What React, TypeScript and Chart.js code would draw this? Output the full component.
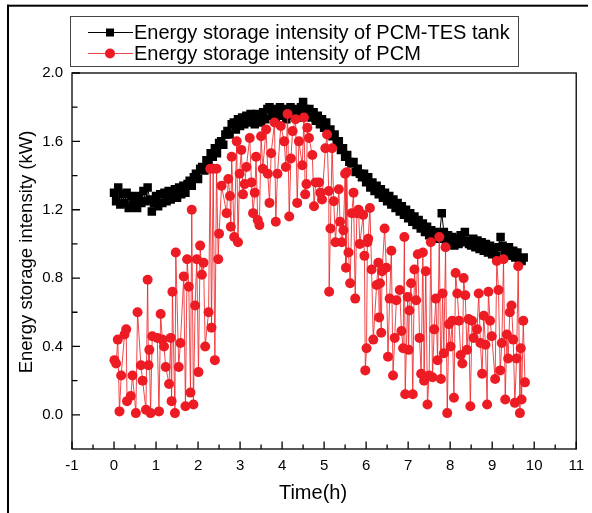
import React, { useEffect, useRef } from "react";
import { Chart, registerables } from "chart.js";

Chart.register(...registerables);

// ---------- data ----------
const tankTimes = [
  0.0, 0.05, 0.1, 0.15, 0.2, 0.25, 0.3, 0.35, 0.4, 0.45, 0.5, 0.55, 0.6, 0.65, 0.7, 0.75, 0.8, 0.85, 0.9, 0.95,
  1.0, 1.05, 1.1, 1.15, 1.2, 1.25, 1.3, 1.35, 1.4, 1.45, 1.5, 1.55, 1.6, 1.65, 1.7, 1.75, 1.8, 1.85, 1.9, 1.95,
  2.0, 2.05, 2.1, 2.15, 2.2, 2.25, 2.3, 2.35, 2.4, 2.45, 2.5, 2.55, 2.6, 2.65, 2.7, 2.75, 2.8, 2.85, 2.9, 2.95,
  3.0, 3.05, 3.1, 3.15, 3.2, 3.25, 3.3, 3.35, 3.4, 3.45, 3.5, 3.55, 3.6, 3.65, 3.7, 3.75, 3.8, 3.85, 3.9, 3.95,
  4.0, 4.05, 4.1, 4.15, 4.2, 4.25, 4.3, 4.35, 4.4, 4.45, 4.5, 4.55, 4.6, 4.65, 4.7, 4.75, 4.8, 4.85, 4.9, 4.95,
  5.0, 5.05, 5.1, 5.15, 5.2, 5.25, 5.3, 5.35, 5.4, 5.45, 5.5, 5.55, 5.6, 5.65, 5.7, 5.75, 5.8, 5.85, 5.9, 5.95,
  6.0, 6.05, 6.1, 6.15, 6.2, 6.25, 6.3, 6.35, 6.4, 6.45, 6.5, 6.55, 6.6, 6.65, 6.7, 6.75, 6.8, 6.85, 6.9, 6.95,
  7.0, 7.05, 7.1, 7.15, 7.2, 7.25, 7.3, 7.35, 7.4, 7.45, 7.5, 7.55, 7.6, 7.65, 7.7, 7.75, 7.8, 7.85, 7.9, 7.95,
  8.0, 8.05, 8.1, 8.15, 8.2, 8.25, 8.3, 8.35, 8.4, 8.45, 8.5, 8.55, 8.6, 8.65, 8.7, 8.75, 8.8, 8.85, 8.9, 8.95,
  9.0, 9.05, 9.1, 9.15, 9.2, 9.25, 9.3, 9.35, 9.4, 9.45, 9.5, 9.55, 9.6, 9.65, 9.7, 9.75,
];

const tankPower = [
  1.3, 1.25, 1.33, 1.23, 1.29, 1.24, 1.3, 1.21, 1.28, 1.23, 1.26, 1.21, 1.28, 1.24, 1.31, 1.25, 1.33, 1.26, 1.19, 1.24,
  1.28, 1.22, 1.29, 1.24, 1.3, 1.25, 1.31, 1.26, 1.3, 1.32, 1.27, 1.33, 1.29, 1.34, 1.3, 1.35, 1.37, 1.34, 1.39, 1.41,
  1.38, 1.44, 1.45, 1.43, 1.49, 1.46, 1.53, 1.51, 1.56, 1.53, 1.59, 1.6, 1.58, 1.64, 1.66, 1.64, 1.7, 1.71, 1.67, 1.73,
  1.69, 1.74, 1.7, 1.75, 1.71, 1.76, 1.72, 1.7, 1.76, 1.73, 1.71, 1.77, 1.73, 1.79, 1.8, 1.75, 1.79, 1.74, 1.78, 1.8,
  1.75, 1.79, 1.73, 1.78, 1.8, 1.75, 1.79, 1.76, 1.74, 1.8, 1.83, 1.79, 1.76, 1.79, 1.74, 1.77, 1.72, 1.75, 1.7, 1.73,
  1.68, 1.71, 1.66, 1.67, 1.63, 1.64, 1.59, 1.6, 1.55, 1.56, 1.51, 1.52, 1.48, 1.47, 1.48, 1.42, 1.44, 1.41, 1.39, 1.41,
  1.36, 1.39, 1.33, 1.36, 1.31, 1.34, 1.29, 1.32, 1.27, 1.3, 1.25, 1.28, 1.23, 1.26, 1.21, 1.24, 1.19, 1.22, 1.17, 1.2,
  1.15, 1.18, 1.13, 1.16, 1.11, 1.14, 1.09, 1.12, 1.07, 1.1, 1.05, 1.08, 1.04, 1.07, 1.03, 1.06, 1.18, 1.07, 1.02, 1.05,
  1.01, 1.04, 0.99, 1.03, 1.0, 1.05, 1.01, 1.07, 1.02, 1.0, 0.99, 1.03, 0.98, 1.02, 0.97, 1.01, 0.96, 1.0, 0.95, 0.99,
  0.94, 0.97, 0.93, 0.98, 1.04, 0.99, 0.96, 0.94, 0.98, 0.93, 0.96, 0.92, 0.95, 0.91, 0.9, 0.92,
];

const pcmTimes = [
  0.01, 0.05, 0.09, 0.13, 0.17, 0.25, 0.29, 0.31, 0.4, 0.44, 0.52, 0.56, 0.64, 0.68, 0.76, 0.8, 0.82, 0.84, 0.87, 0.91,
  1.03, 1.07, 1.11, 1.15, 1.19, 1.23, 1.31, 1.35, 1.37, 1.39, 1.45, 1.47, 1.54, 1.58, 1.66, 1.7, 1.74, 1.78, 1.82, 1.85,
  1.89, 1.93, 1.97, 2.01, 2.05, 2.09, 2.13, 2.17, 2.25, 2.29, 2.32, 2.36, 2.4, 2.44, 2.48, 2.5, 2.56, 2.68, 2.72, 2.76,
  2.78, 2.8, 2.86, 2.92, 2.95, 2.99, 3.03, 3.07, 3.11, 3.15, 3.23, 3.27, 3.31, 3.35, 3.38, 3.42, 3.46, 3.5, 3.54, 3.62,
  3.66, 3.7, 3.74, 3.82, 3.85, 3.89, 3.97, 4.05, 4.09, 4.13, 4.17, 4.21, 4.25, 4.32, 4.36, 4.4, 4.48, 4.52, 4.55, 4.58,
  4.6, 4.64, 4.72, 4.76, 4.8, 4.88, 4.91, 4.95, 5.03, 5.07, 5.11, 5.12, 5.15, 5.19, 5.23, 5.27, 5.35, 5.38, 5.42, 5.46,
  5.5, 5.52, 5.54, 5.58, 5.62, 5.66, 5.7, 5.74, 5.78, 5.82, 5.85, 5.93, 5.96, 5.98, 6.01, 6.03, 6.05, 6.09, 6.13, 6.17,
  6.25, 6.29, 6.31, 6.33, 6.36, 6.38, 6.44, 6.48, 6.52, 6.56, 6.6, 6.64, 6.68, 6.72, 6.8, 6.84, 6.88, 6.91, 6.93, 6.99,
  7.01, 7.03, 7.07, 7.11, 7.15, 7.19, 7.23, 7.27, 7.31, 7.35, 7.38, 7.42, 7.46, 7.5, 7.54, 7.58, 7.62, 7.66, 7.7, 7.74,
  7.78, 7.82, 7.85, 7.89, 7.93, 7.97, 8.01, 8.05, 8.09, 8.13, 8.17, 8.21, 8.25, 8.29, 8.32, 8.36, 8.4, 8.44, 8.48, 8.52,
  8.56, 8.64, 8.68, 8.72, 8.76, 8.8, 8.84, 8.88, 8.91, 8.95, 8.99, 9.07, 9.11, 9.15, 9.19, 9.23, 9.27, 9.31, 9.35, 9.38,
  9.42, 9.46, 9.5, 9.54, 9.58, 9.62, 9.66, 9.68, 9.7, 9.74, 9.78,
];

const pcmPower = [
  0.32, 0.3, 0.44, 0.02, 0.23, 0.47, 0.5, 0.08, 0.11, 0.23, 0.01, 0.6, 0.29, 0.2, 0.03, 0.79, 0.29, 0.38, 0.01, 0.46,
  0.45, 0.02, 0.59, 0.44, 0.4, 0.28, 0.18, 0.45, 0.08, 0.72, 0.01, 0.95, 0.28, 0.42, 0.81, 0.05, 0.91, 0.75, 0.13, 1.2,
  0.06, 0.64, 0.91, 0.25, 0.99, 0.82, 0.89, 0.4, 0.6, 1.44, 0.51, 1.44, 0.32, 1.44, 0.91, 1.06, 1.34, 1.18, 1.38, 1.28,
  1.1, 1.51, 1.04, 1.6, 1.01, 1.41, 1.55, 1.29, 1.35, 1.45, 1.62, 1.36, 1.18, 1.3, 1.51, 1.14, 1.11, 1.63, 1.44, 1.67,
  1.41, 1.24, 1.53, 1.71, 1.13, 1.41, 1.69, 1.6, 1.45, 1.76, 1.16, 1.5, 1.66, 1.73, 1.24, 1.6, 1.46, 1.74, 1.29, 1.35,
  1.68, 1.62, 1.52, 1.22, 1.36, 1.36, 1.3, 1.26, 1.56, 1.64, 1.31, 0.72, 1.09, 1.56, 1.25, 1.01, 1.32, 1.13, 1.01, 1.08,
  1.41, 0.86, 1.42, 0.95, 0.77, 1.18, 1.3, 0.68, 1.18, 1.2, 1.0, 1.17, 0.93, 0.26, 0.39, 1.01, 1.03, 1.21, 0.85, 0.44,
  0.76, 0.89, 0.57, 0.77, 0.48, 0.84, 1.09, 0.86, 0.34, 0.68, 0.96, 0.23, 0.45, 0.67, 0.73, 0.49, 0.39, 1.04, 0.12, 0.69,
  0.38, 0.61, 0.77, 0.12, 0.85, 0.67, 0.94, 0.45, 0.24, 0.95, 0.2, 0.84, 0.06, 0.23, 1.01, 0.22, 0.5, 0.68, 0.32, 1.04,
  0.21, 0.71, 0.36, 0.98, 0.01, 0.53, 0.4, 0.55, 0.1, 0.83, 0.71, 0.55, 0.35, 0.3, 0.8, 0.7, 0.38, 0.56, 0.05, 0.55,
  0.45, 0.5, 0.71, 0.42, 0.24, 0.58, 0.41, 0.06, 0.72, 0.55, 0.46, 0.21, 0.9, 0.73, 0.26, 0.42, 0.91, 0.09, 0.47, 0.33,
  0.6, 0.64, 0.44, 0.07, 0.33, 0.87, 0.01, 0.39, 0.09, 0.55, 0.19,
];

const seriesLabels = ["Energy storage intensity of PCM-TES tank", "Energy storage intensity of PCM"];
const xTickValues = [-1, 0, 1, 2, 3, 4, 5, 6, 7, 8, 9, 10, 11];
const xMinorValues = [-0.5, 0.5, 1.5, 2.5, 3.5, 4.5, 5.5, 6.5, 7.5, 8.5, 9.5, 10.5];
const yTickValues = [0, 0.4, 0.8, 1.2, 1.6, 2.0];
const yMinorValues = [0.2, 0.6, 1.0, 1.4, 1.8];
const xTitle = "Time(h)";
const yTitle = "Energy storage intensity (kW)";

const FONT = '"Liberation Sans", Arial, Helvetica, sans-serif';
const RED = "rgb(237,28,36)";
const RED_LINE = "rgba(237,40,44,0.85)";

const decorPlugin = {
  id: "decor",
  afterDatasetsDraw(chart: any) {
    const { ctx, chartArea, scales } = chart;
    const { left, right, top, bottom } = chartArea;
    const xs = scales.x;
    const ys = scales.y;
    ctx.save();
    ctx.strokeStyle = "#000";
    ctx.lineWidth = 1.3;
    ctx.strokeRect(left, top, right - left, bottom - top);
    ctx.beginPath();
    for (const v of xTickValues) {
      const p = xs.getPixelForValue(v);
      ctx.moveTo(p, bottom);
      ctx.lineTo(p, bottom - 7.5);
    }
    for (const v of xMinorValues) {
      const p = xs.getPixelForValue(v);
      ctx.moveTo(p, bottom);
      ctx.lineTo(p, bottom - 4.5);
    }
    for (const v of yTickValues) {
      const p = ys.getPixelForValue(v);
      ctx.moveTo(left, p);
      ctx.lineTo(left + 8, p);
    }
    for (const v of yMinorValues) {
      const p = ys.getPixelForValue(v);
      ctx.moveTo(left, p);
      ctx.lineTo(left + 5.5, p);
    }
    ctx.stroke();
    ctx.restore();
  },
  afterDraw(chart: any) {
    const { ctx } = chart;
    ctx.save();
    // outer figure frame (left and top edges)
    ctx.fillStyle = "#000";
    ctx.fillRect(7, 4.7, 581, 2);
    ctx.fillRect(7, 4.7, 2, 520);

    // legend box
    ctx.strokeStyle = "#444";
    ctx.lineWidth = 1;
    ctx.strokeRect(70.5, 16.5, 448, 50);
    const rows = [
      { y: 32, ds: chart.data.datasets[0] },
      { y: 53, ds: chart.data.datasets[1] },
    ];
    ctx.font = `20px ${FONT}`;
    ctx.textBaseline = "middle";
    ctx.textAlign = "left";
    rows.forEach((r, i) => {
      ctx.strokeStyle = r.ds.borderColor;
      ctx.lineWidth = 1;
      ctx.beginPath();
      ctx.moveTo(88, r.y + 0.5);
      ctx.lineTo(133, r.y + 0.5);
      ctx.stroke();
      ctx.fillStyle = r.ds.pointBackgroundColor;
      if (i === 0) {
        ctx.fillRect(106, r.y - 3.5, 8, 8);
      } else {
        ctx.beginPath();
        ctx.arc(110, r.y + 0.5, 5, 0, Math.PI * 2);
        ctx.fill();
      }
      ctx.fillStyle = "#000";
      ctx.fillText(r.ds.label, 134, r.y + 1);
    });

    // axis titles
    ctx.fillStyle = "#000";
    ctx.font = `20px ${FONT}`;
    ctx.textAlign = "center";
    ctx.textBaseline = "middle";
    ctx.fillText(xTitle, 313, 493);
    ctx.translate(26.5, 252);
    ctx.rotate(-Math.PI / 2);
    ctx.font = `18.5px ${FONT}`;
    ctx.fillText(yTitle, 0, 0);
    ctx.restore();
  },
};

export default function App() {
  const canvasRef = useRef<HTMLCanvasElement | null>(null);

  useEffect(() => {
    const canvas = canvasRef.current;
    if (!canvas) return;
    const tankData = tankTimes.map((t, i) => ({ x: t, y: tankPower[i] }));
    const pcmData = pcmTimes.map((t, i) => ({ x: t, y: pcmPower[i] }));

    const chart = new Chart(canvas, {
      type: "line",
      data: {
        datasets: [
          {
            label: seriesLabels[0],
            data: tankData,
            borderColor: "#000",
            backgroundColor: "#000",
            pointBackgroundColor: "#000",
            pointBorderColor: "#000",
            pointBorderWidth: 0,
            pointStyle: "rect",
            pointRadius: 6,
            borderWidth: 1,
            tension: 0,
            order: 1,
          },
          {
            label: seriesLabels[1],
            data: pcmData,
            borderColor: RED_LINE,
            backgroundColor: RED,
            pointBackgroundColor: RED,
            pointBorderColor: RED,
            pointBorderWidth: 0,
            pointStyle: "circle",
            pointRadius: 5,
            borderWidth: 1,
            tension: 0,
            order: 0,
          },
        ],
      },
      options: {
        responsive: false,
        animation: false,
        events: [],
        layout: { padding: { top: 73, right: 10, left: 0, bottom: 0 } },
        plugins: {
          legend: { display: false },
          tooltip: { enabled: false },
          title: { display: false },
        },
        scales: {
          x: {
            type: "linear",
            min: -1,
            max: 11,
            grid: { display: false, drawTicks: false },
            border: { display: false },
            afterBuildTicks: (s: any) => {
              s.ticks = xTickValues.map((v) => ({ value: v }));
            },
            afterFit: (s: any) => {
              s.height = 64;
            },
            ticks: {
              color: "#000",
              padding: 8,
              autoSkip: false,
              maxRotation: 0,
              font: { family: FONT, size: 15 },
              callback: (v: any) => String(v),
            },
          },
          y: {
            type: "linear",
            min: -0.2,
            max: 2.0,
            grid: { display: false, drawTicks: false },
            border: { display: false },
            afterBuildTicks: (s: any) => {
              s.ticks = yTickValues.map((v) => ({ value: v }));
            },
            afterFit: (s: any) => {
              s.width = 72;
            },
            ticks: {
              color: "#000",
              padding: 9,
              autoSkip: false,
              font: { family: FONT, size: 15 },
              callback: (v: any) => Number(v).toFixed(1),
            },
          },
        },
      },
      plugins: [decorPlugin],
    });
    return () => chart.destroy();
  }, []);

  return (
    <div
      style={{
        position: "absolute",
        left: 0,
        top: 0,
        width: 592,
        height: 513,
        background: "#fff",
        overflow: "hidden",
      }}
    >
      <canvas ref={canvasRef} width={592} height={513} style={{ display: "block" }} />
    </div>
  );
}
